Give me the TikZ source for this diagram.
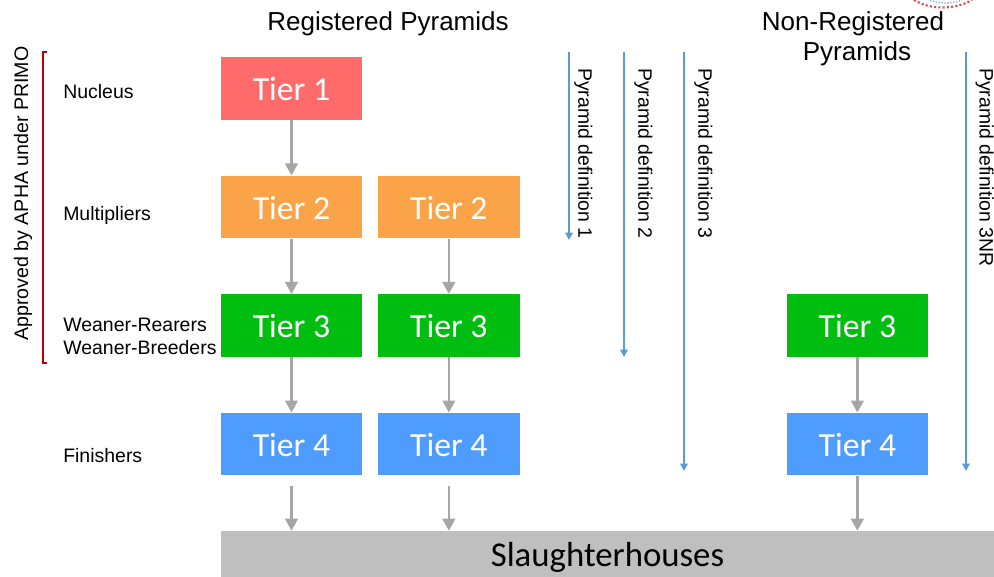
\documentclass[tikz,border=0pt]{standalone}
\usepackage{fontspec}
\setmainfont{Liberation Sans}
\newfontfamily\tierfont{Carlito}
\usetikzlibrary{arrows.meta}
\usetikzlibrary{positioning}
\definecolor{tierred}{HTML}{FF6B6B}
\definecolor{tierorange}{HTML}{FBA349}
\definecolor{tiergreen}{HTML}{00BE0F}
\definecolor{tierblue}{HTML}{4F9CFF}
\definecolor{flowgray}{HTML}{A6A6A6}
\definecolor{slaughtergray}{HTML}{BFBFBF}
\definecolor{defblue}{HTML}{5B9BD5}
\definecolor{bracketred}{HTML}{C00000}
\definecolor{logored}{HTML}{D9505A}
\definecolor{logoblue}{HTML}{7FB2DC}
\tikzset{
  tier/.style={minimum width=106pt,minimum height=47pt,inner sep=0pt,text=white,text height=18.5pt,text depth=0pt,font=\tierfont\fontsize{25.3}{28}\selectfont},
  level/.style={anchor=west,inner sep=0pt,align=left,font=\fontsize{14.6}{17.25}\selectfont},
  heading/.style={inner sep=0pt,align=center,font=\fontsize{19.5}{22.5}\selectfont},
  flow/.style={color=flowgray,line width=1.7pt,-{Triangle[length=9pt,width=9.5pt]}},
  defline/.style={draw=defblue,line width=1.4pt,-{Triangle[length=5.5pt,width=5.5pt]}},
  deflabel/.style={rotate=-90,anchor=west,inner sep=0pt,font=\fontsize{14.55}{15}\selectfont}
}
\begin{document}
\begin{tikzpicture}[x=0.75pt,y=0.75pt,node distance=88.9pt and 118pt,on grid]
    \useasboundingbox (0,0) rectangle (994,-577);
    \node[tier,fill=tierred] (t1a) at (291.5,-88.5) {Tier 1};
    \node[tier,fill=tierorange] [below=of t1a] (t2a) {Tier 2};
    \node[tier,fill=tiergreen] [below=of t2a] (t3a) {Tier 3};
    \node[tier,fill=tierblue] [below=of t3a] (t4a) {Tier 4};
    \node[tier,fill=tierorange] [right=of t2a] (t2b) {Tier 2};
    \node[tier,fill=tiergreen] [below=of t2b] (t3b) {Tier 3};
    \node[tier,fill=tierblue] [below=of t3b] (t4b) {Tier 4};
    \node[tier,fill=tiergreen] [right=306.4pt of t3b] (t3c) {Tier 3};
    \node[tier,fill=tierblue] [below=of t3c] (t4c) {Tier 4};
    \node[minimum width=579.75pt,minimum height=34.5pt,inner sep=0pt,fill=slaughtergray,text height=23pt,text depth=5pt,font=\tierfont\fontsize{26.1}{28}\selectfont] (slaughter) at (607.5,-554) {Slaughterhouses};

    \node[heading] (registered) at (388,-24) {Registered Pyramids};
    \node[heading] (nonregistered) at (853,-39) {Non-Registered\\\hspace*{6pt}Pyramids};

    \node[level] (nucleus) at (63,-92) {Nucleus};
    \node[level] (multipliers) at (63,-215) {Multipliers};
    \node[level] (weaner) at (63,-336) {Weaner-Rearers\\Weaner-Breeders};
    \node[level] (finishers) at (63,-456) {Finishers};
    \node[rotate=90,inner sep=0pt,font=\fontsize{14.7}{15}\selectfont] (approved) at (23,-193.5) {Approved by APHA under PRIMO};

    \path
    (t1a) edge [flow] (t2a)
    (t2a) edge [flow] (t3a)
    (t3a) edge [flow] (t4a)
    (t2b) edge [flow] (t3b)
    (t3b) edge [flow] (t4b)
    (t3c) edge [flow] (t4c);
    \draw[flow,shorten <=8pt] (t4a) -- (t4a |- slaughter.north);
    \draw[flow,shorten <=8pt] (t4b) -- (t4b |- slaughter.north);
    \draw[flow] (t4c) -- (t4c |- slaughter.north);

    % pyramid definitions
    \coordinate (d1s) at (569,-52);
    \coordinate (d1e) at (569,-240);
    \coordinate (d2s) at (624,-52);
    \coordinate (d2e) at (624,-357);
    \coordinate (d3s) at (684,-52);
    \coordinate (d3e) at (684,-471);
    \coordinate (d4s) at (966,-52);
    \coordinate (d4e) at (966,-471);
    \draw[defline] (d1s) -- (d1e);
    \draw[defline] (d2s) -- (d2e);
    \draw[defline] (d3s) -- (d3e);
    \draw[defline] (d4s) -- (d4e);
    \node[deflabel] (d1) at (583.5,-68) {Pyramid definition 1};
    \node[deflabel] (d2) at (643.5,-68) {Pyramid definition 2};
    \node[deflabel] (d3) at (703.5,-68) {Pyramid definition 3};
    \node[deflabel] (d4) at (984.5,-68) {Pyramid definition 3NR};

    % bracket
    \draw[bracketred,line width=1.5pt] (47,-52) -- (42.5,-52) -- (42.5,-363) -- (47,-363);

    % logo edge
    \draw[logored,line width=1.6pt,dash pattern=on 1.6pt off 1.6pt] (914,0) .. controls (930,-10) and (955,-10) .. (972,0);
    \draw[logoblue,line width=1pt,dash pattern=on 1pt off 1.2pt] (930,0) .. controls (938,-4) and (952,-4) .. (962,0);
\end{tikzpicture}
\end{document}
